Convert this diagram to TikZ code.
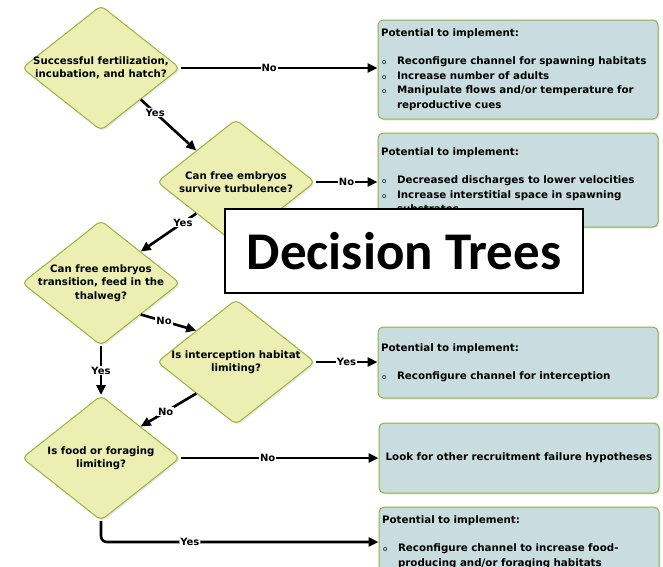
\documentclass[tikz,border=0pt]{standalone}
\usepackage{fontspec}
\setmainfont{DejaVu Sans}
\newfontfamily\titlefont{Carlito}
\usetikzlibrary{shapes.geometric,arrows.meta,shadows}
\definecolor{diafill}{HTML}{EDEFB2}
\definecolor{diaedge}{HTML}{9BB23C}
\definecolor{boxfill}{HTML}{C9DDE0}
\definecolor{boxedge}{HTML}{8DB23F}
\newcommand{\bitem}[1]{\par\noindent\makebox[16pt][l]{\hspace{1pt}\fontsize{7}{7}\selectfont\mdseries o}\parbox[t]{256pt}{\raggedright #1}}
\newcommand{\hdr}{Potential to implement:\par\vspace{14pt}}
\begin{document}
\begin{tikzpicture}[x=1pt,y=-1pt,
  dia/.style={diamond, aspect=1.264, draw=diaedge, fill=diafill, line width=1pt,
    rounded corners=5pt, minimum width=158pt, minimum height=125pt,
    inner xsep=-20pt, inner ysep=0pt, align=center,
    font=\bfseries\fontsize{10.2}{13.5}\selectfont,
    drop shadow={opacity=0.18, shadow xshift=1.5pt, shadow yshift=-1.5pt}},
  infobox/.style={rectangle, draw=boxedge, fill=boxfill, line width=1pt,
    rounded corners=5pt, text width=274pt, inner xsep=3pt, align=left,
    font=\bfseries\fontsize{10.3}{14.5}\selectfont,
    drop shadow={opacity=0.18, shadow xshift=1.5pt, shadow yshift=-1.5pt}},
  arr/.style={line width=2.6pt, -{Triangle[length=10pt,width=9pt]}},
  lab/.style={fill=white, inner sep=1pt, font=\bfseries\fontsize{10}{10}\selectfont},
  titlebox/.style={rectangle, draw=black, line width=2.5pt, fill=white,
    minimum width=358pt, minimum height=84pt,
    font=\titlefont\bfseries\fontsize{53}{53}\selectfont}
]
\useasboundingbox (0,0) rectangle (663,566);
\clip (0,0) rectangle (663,566);

% decision diamonds
\node[dia] (d1) at (101,68) {Successful fertilization,\\incubation, and hatch?};
\node[dia] (d2) at (236,182) {Can free embryos\\survive turbulence?};
\node[dia] (d3) at (101,283) {Can free embryos\\transition, feed in the\\thalweg?};
\node[dia] (d4) at (236,362) {Is interception habitat\\limiting?};
\node[dia] (d5) at (101,458) {Is food or foraging\\limiting?};

% outcome boxes
\node[infobox, minimum height=99pt] (b1) at (518,69.5) {\hdr
  \bitem{Reconfigure channel for spawning habitats}
  \bitem{Increase number of adults}
  \bitem{Manipulate flows and/or temperature for\\reproductive cues}};
\node[infobox, minimum height=94pt] (b2) at (518,180) {\hdr
  \bitem{Decreased discharges to lower velocities}
  \bitem{Increase interstitial space in spawning\\substrates}};
\node[infobox, minimum height=71pt] (b3) at (518,362.5) {\hdr
  \bitem{Reconfigure channel for interception}};
\node[infobox, minimum height=70pt, align=center] (b4) at (519,458) {Look for other recruitment failure hypotheses};
\node[infobox, minimum height=70pt] (b5) at (519,542) {\hdr
  \bitem{Reconfigure channel to increase food-\\producing and/or foraging habitats}};

% connectors
\draw[arr] (d1.east) -- node[lab, pos=0.45] {No} (d1.east -| b1.west);
\draw[arr] (d1.south east) -- node[lab, pos=0.26] {Yes} (d2.north west);
\draw[arr] (d2.east) -- node[lab] {No} (d2.east -| b2.west);
\draw[arr] (d2.south west) -- node[lab, pos=0.24] {Yes} (d3.north east);
\draw[arr] (d3.south east) -- node[lab, pos=0.42] {No} (d4.north west);
\draw[arr] (d3.south) -- node[lab] {Yes} (d5.north);
\draw[arr] (d4.east) -- node[lab] {Yes} (d4.east -| b3.west);
\draw[arr] (d4.south west) -- node[lab, pos=0.55] {No} (d5.north east);
\draw[arr] (d5.east) -- node[lab, pos=0.44] {No} (d5.east -| b4.west);
\draw[arr, rounded corners=6pt] (d5.south) |- node[lab, pos=0.66] {Yes} (b5.west);

% title
\node[titlebox] (title) at (404,251) {Decision Trees};
\end{tikzpicture}
\end{document}
